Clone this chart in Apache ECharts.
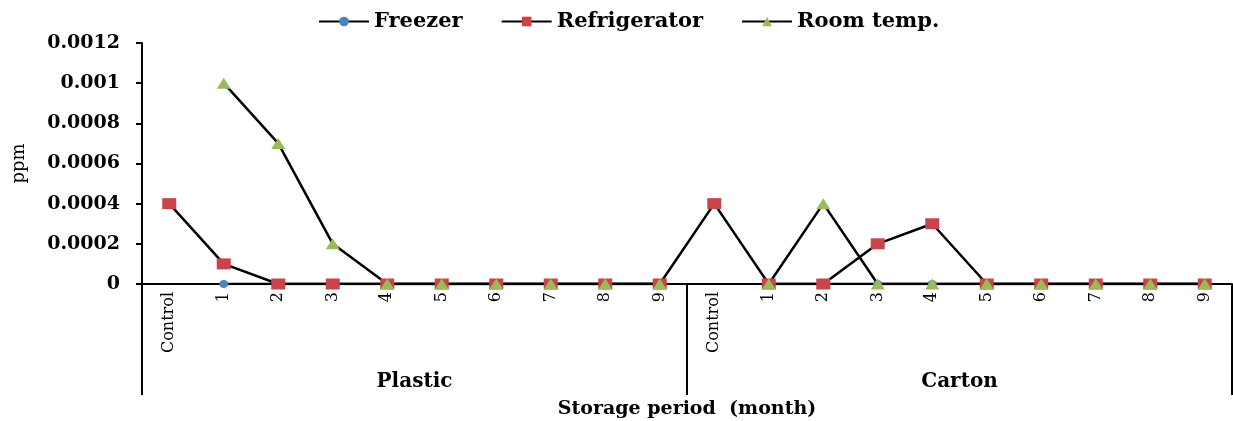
<!DOCTYPE html>
<html><head><meta charset="utf-8">
<script src="https://cdn.jsdelivr.net/npm/echarts@6/dist/echarts.min.js"></script>
<style>html,body{margin:0;padding:0;background:#fff}#c{width:1233px;height:421px}</style>
</head><body><div id="c"></div>
<script>
const categories = ['Control','1','2','3','4','5','6','7','8','9','Control','1','2','3','4','5','6','7','8','9'];
const groups = ['Plastic','Carton'];
const freezer = [null,0,0,0,0,0,0,0,0,0,null,0,0,0,0,0,0,0,0,0];
const refrigerator = [0.0004,0.0001,0,0,0,0,0,0,0,0,0.0004,0,0,0.0002,0.0003,0,0,0,0,0];
const roomTemp = [null,0.001,0.0007,0.0002,0,0,0,0,0,0,null,0,0.0004,0,0,0,0,0,0,0];

const FONT = 'DejaVu Serif';
const chart = echarts.init(document.getElementById('c'), null, {renderer: 'canvas'});
function mk(name, data, symbol, size, color) {
  return {
    name: name, type: 'line', data: data, xAxisIndex: 0,
    symbol: symbol, symbolSize: size, showSymbol: true,
    lineStyle: {color: '#000', width: 2.5},
    itemStyle: {color: color},
    emphasis: {disabled: true}, animation: false
  };
}
chart.setOption({
  animation: false,
  backgroundColor: '#fff',
  legend: {
    left: 313, top: 6, itemWidth: 50, itemHeight: 12, itemGap: 38,
    textStyle: {fontFamily: FONT, fontWeight: 'bold', fontSize: 21, color: '#000'},
    data: ['Freezer', 'Refrigerator', 'Room temp.']
  },
  grid: {left: 142, right: 1, top: 43, bottom: 137, containLabel: false, outerBoundsMode: 'none'},
  xAxis: [{
    type: 'category', data: categories, position: 'bottom',
    axisLine: {show: true, lineStyle: {color: '#000', width: 2}},
    axisTick: {show: false},
    axisLabel: {rotate: 90, interval: 0, margin: 8, fontFamily: FONT, fontSize: 16, color: '#000'},
    name: 'Storage period  (month)', nameLocation: 'middle', nameGap: 116, nameMoveOverlap: false,
    nameTextStyle: {fontFamily: FONT, fontWeight: 'bold', fontSize: 19, color: '#000'}
  }, {
    type: 'category', data: groups, position: 'bottom', offset: 0,
    axisLine: {show: false},
    axisTick: {show: true, length: 111, interval: 0, lineStyle: {color: '#000', width: 2}},
    axisLabel: {interval: 0, margin: 88, fontFamily: FONT, fontWeight: 'bold', fontSize: 20, color: '#000'}
  }],
  yAxis: {
    type: 'value', min: 0, max: 0.0012, interval: 0.0002,
    axisLine: {show: true, lineStyle: {color: '#000', width: 2}},
    axisTick: {show: true, length: 6, lineStyle: {color: '#000', width: 2}},
    splitLine: {show: false},
    axisLabel: {margin: 22, fontFamily: FONT, fontWeight: 'bold', fontSize: 19, color: '#000',
      formatter: function (v) { return v === 0 ? '0' : String(+v.toFixed(4)); }},
    name: 'ppm', nameLocation: 'middle', nameGap: 114, nameRotate: 90, nameMoveOverlap: false,
    nameTextStyle: {fontFamily: FONT, fontSize: 18, color: '#000'}
  },
  series: [
    mk('Freezer', freezer, 'circle', [9, 8], '#4f81bd'),
    mk('Refrigerator', refrigerator, 'rect', [14, 11], '#c8434a'),
    mk('Room temp.', roomTemp, 'triangle', [14, 11], '#9bbb59')
  ]
});
</script></body></html>
